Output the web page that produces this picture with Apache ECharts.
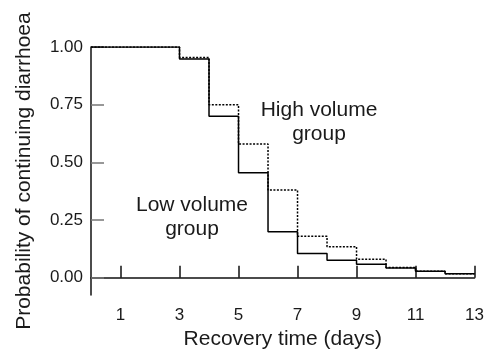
<!DOCTYPE html>
<html>
<head>
<meta charset="utf-8">
<script src="https://cdn.jsdelivr.net/npm/echarts@6/dist/echarts.min.js"></script>
<style>html,body{margin:0;padding:0;background:#fff}#c{width:487px;height:355px}</style>
</head>
<body>
<div id="c"></div>
<script>
var days = [0, 3, 4, 5, 6, 7, 8, 9, 10, 11, 12, 13];
var lowVolume  = [1.00, 0.948, 0.70, 0.455, 0.20, 0.105, 0.076, 0.059, 0.042, 0.028, 0.017, 0.017];
var highVolume = [1.00, 0.955, 0.75, 0.58, 0.38, 0.18, 0.135, 0.08, 0.045, 0.028, 0.017, 0.017];
var xTicks = [1, 3, 5, 7, 9, 11, 13];
var yTicks = [0, 0.25, 0.5, 0.75, 1.0];
var xTitle = 'Recovery time (days)';
var yTitle = 'Probability of continuing diarrhoea';
var labelHigh = 'High volume\ngroup';
var labelLow = 'Low volume\ngroup';

function pairs(xs, ys) { return xs.map(function (x, i) { return [x, ys[i]]; }); }

var font = '"Liberation Sans", Arial, Helvetica, sans-serif';
var chart = echarts.init(document.getElementById('c'), null, {renderer: 'canvas'});
chart.setOption({
  animation: false,
  backgroundColor: '#fff',
  grid: {left: 91, right: 9, top: 47, bottom: 52, containLabel: false},
  xAxis: {
    type: 'value', min: 0, max: 13,
    name: xTitle, nameLocation: 'middle', nameGap: 32,
    nameTextStyle: {fontFamily: font, fontSize: 21, color: '#1a1a1a'},
    axisLine: {show: true, lineStyle: {color: '#111', width: 1.5}},
    axisTick: {show: true, inside: true, length: 12, customValues: xTicks, lineStyle: {color: '#111', width: 1.5}},
    axisLabel: {customValues: xTicks, margin: 12, fontFamily: font, fontSize: 17, color: '#1a1a1a',
      formatter: function (v) { return String(v); }},
    splitLine: {show: false}
  },
  yAxis: {
    type: 'value', min: -0.075, max: 1.0,
    name: yTitle, nameLocation: 'middle', nameGap: 56,
    nameTextStyle: {fontFamily: font, fontSize: 21, color: '#1a1a1a'},
    axisLine: {show: true, lineStyle: {color: '#111', width: 1.5}},
    axisTick: {show: true, inside: true, length: 13, customValues: yTicks, lineStyle: {color: '#777', width: 1.5}},
    axisLabel: {customValues: yTicks, margin: 8, fontFamily: font, fontSize: 17, color: '#1a1a1a',
      formatter: function (v) { return v.toFixed(2); }},
    splitLine: {show: false}
  },
  series: [
    {type: 'line', name: 'Low volume', step: 'end', data: pairs(days, lowVolume), symbol: 'none',
      lineStyle: {color: '#000', width: 1.5, type: 'solid'}, z: 2},
    {type: 'line', name: 'High volume', step: 'end', data: pairs(days, highVolume), symbol: 'none',
      lineStyle: {color: '#000', width: 1.5, type: [2, 1.5]}, z: 3}
  ],
  graphic: [
    {type: 'text', x: 319, y: 122, style: {text: labelHigh, font: '21px ' + font, fill: '#1a1a1a', align: 'center', verticalAlign: 'middle', lineHeight: 24}},
    {type: 'text', x: 192, y: 217, style: {text: labelLow, font: '21px ' + font, fill: '#1a1a1a', align: 'center', verticalAlign: 'middle', lineHeight: 24}}
  ]
});
</script>
</body>
</html>
